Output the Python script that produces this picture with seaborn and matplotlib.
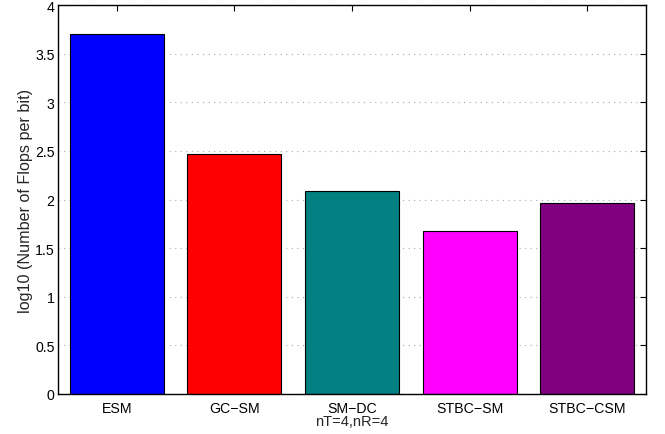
import matplotlib
matplotlib.use("Agg")
import matplotlib.pyplot as plt
import seaborn as sns
import pandas as pd

schemes = ["ESM", "GC\u2212SM", "SM\u2212DC", "STBC\u2212SM", "STBC\u2212CSM"]
log_flops = [3.70, 2.47, 2.09, 1.675, 1.965]
bar_colors = ["#0000FF", "#FF0000", "#008080", "#FF00FF", "#800080"]
y_ticks = [0, 0.5, 1, 1.5, 2, 2.5, 3, 3.5, 4]
y_tick_labels = ["0", "0.5", "1", "1.5", "2", "2.5", "3", "3.5", "4"]

sns.set_theme(style="white")
plt.rcParams["font.family"] = ["Liberation Sans", "DejaVu Sans"]

df = pd.DataFrame({"scheme": schemes, "value": log_flops})

fig = plt.figure(figsize=(6.65, 4.35), dpi=100)
ax = fig.add_axes([58 / 665, 40 / 435, 588 / 665, 389 / 435])

ax.set_axisbelow(True)
ax.yaxis.grid(True, linestyle=(0, (1, 4)), color="#aaaaaa", linewidth=0.8)
ax.xaxis.grid(False)

sns.barplot(data=df, x="scheme", y="value", hue="scheme", palette=bar_colors,
            width=0.8, edgecolor="black", linewidth=0.8, saturation=1,
            legend=False, ax=ax)

ax.set_xlim(-0.5, 4.5)
ax.set_ylim(0, 4)
ax.set_yticks(y_ticks)
ax.set_yticklabels(y_tick_labels)
ax.set_ylabel("log10 (Number of Flops per bit)", fontsize=11.6, labelpad=1.5)
ax.set_xlabel("nT=4,nR=4", fontsize=10.5, labelpad=-1)

for s in ax.spines.values():
    s.set_visible(True)
    s.set_color("black")
    s.set_linewidth(1.0)

ax.tick_params(axis="both", direction="in", top=True, right=True, length=4,
               width=0.8, labelsize=10.2, colors="black")
ax.tick_params(axis="x", pad=5)
ax.tick_params(axis="y", pad=2.5)

fig.savefig("out.png", dpi=100)
